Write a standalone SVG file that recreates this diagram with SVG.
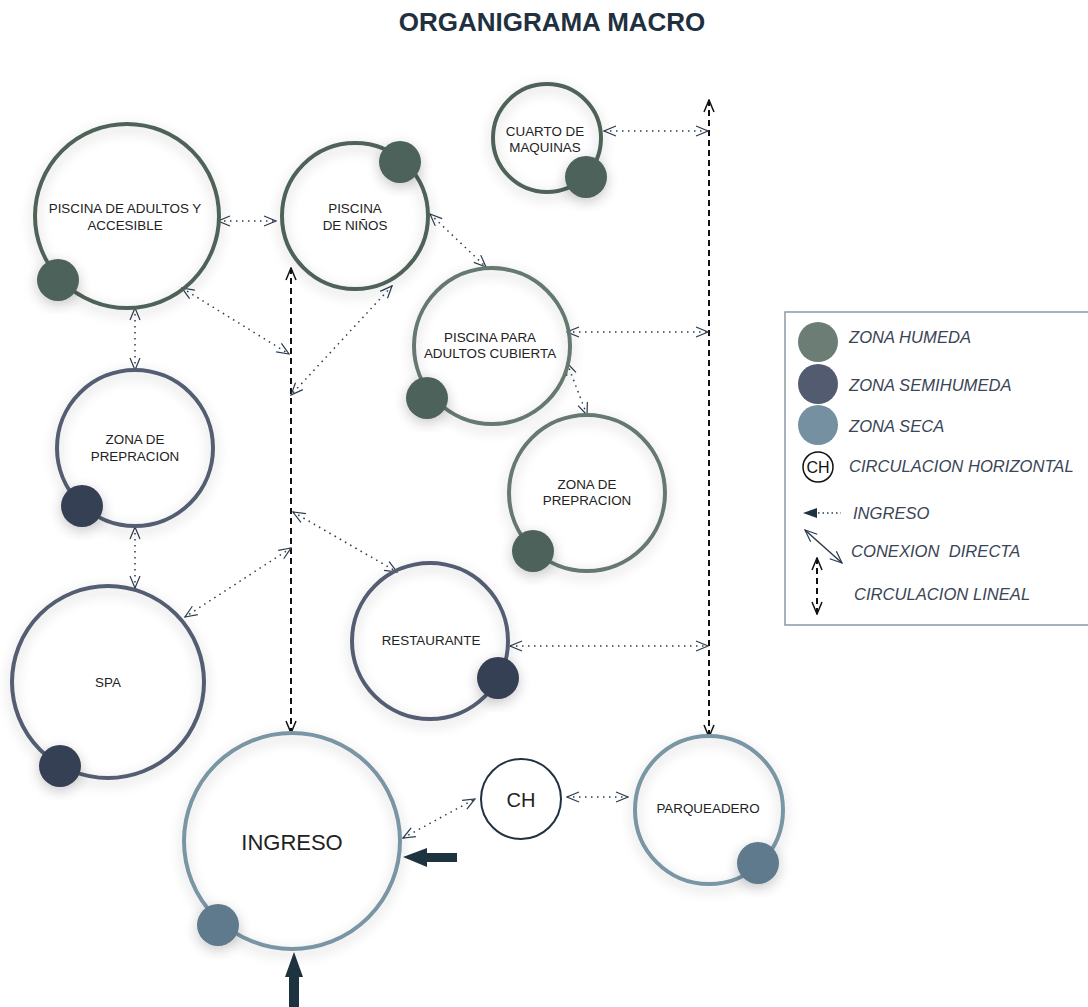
<svg xmlns="http://www.w3.org/2000/svg" width="1088" height="1007" viewBox="0 0 1088 1007">
<style>
.ring{fill:none;stroke-width:4}
.hum{stroke:#4f6259}
.hum2{stroke:#65796f}
.semi{stroke:#545d72}
.seca{stroke:#7a95a3}
.dh{fill:#4e625a}
.ds{fill:#363f54}
.dc{fill:#5f7a8c}
.lbl{font-family:"Liberation Sans",Arial,sans-serif;font-size:13.4px;fill:#222;text-anchor:middle}
.dot{fill:none;stroke:#2b3b4c;stroke-width:1.5;stroke-dasharray:1.5 4.5;marker-start:url(#ao);marker-end:url(#ao)}
.dash{fill:none;stroke:#111;stroke-width:2;stroke-dasharray:6 4;marker-start:url(#ab);marker-end:url(#ab)}
.leg{font-family:"Liberation Sans",Arial,sans-serif;font-size:16.6px;font-style:italic;fill:#3a4556;white-space:pre}
</style>
<defs>
<filter id="sh" x="-30%" y="-30%" width="160%" height="160%">
<feGaussianBlur in="SourceAlpha" stdDeviation="7"/>
<feOffset dx="0" dy="4" result="b"/>
<feComponentTransfer><feFuncA type="linear" slope="0.22"/></feComponentTransfer>
<feMerge><feMergeNode/><feMergeNode in="SourceGraphic"/></feMerge>
</filter>
<marker id="ao" viewBox="0 0 14 12" refX="13" refY="6" markerWidth="14" markerHeight="12" markerUnits="userSpaceOnUse" orient="auto-start-reverse">
<path d="M1,1 L13,6 L1,11" fill="none" stroke="#2b3b4c" stroke-width="1.2"/>
</marker>
<marker id="ab" viewBox="0 0 14 12" refX="13" refY="6" markerWidth="14" markerHeight="12" markerUnits="userSpaceOnUse" orient="auto-start-reverse">
<path d="M1,1 L13,6 L1,11" fill="none" stroke="#111" stroke-width="1.5"/>
</marker>
</defs>
<rect width="1088" height="1007" fill="#fff"/>
<text x="552" y="31" font-family="Liberation Sans,Arial,sans-serif" font-size="26" font-weight="bold" fill="#1f3040" text-anchor="middle">ORGANIGRAMA MACRO</text>

<g id="connectors">
<line class="dash" x1="291" y1="268" x2="291" y2="733"/>
<line class="dash" x1="709" y1="100" x2="709" y2="737"/>
<line class="dot" x1="218" y1="221" x2="276" y2="221"/>
<line class="dot" x1="604" y1="131" x2="708" y2="131"/>
<line class="dot" x1="430" y1="214" x2="486" y2="267"/>
<line class="dot" x1="182" y1="288" x2="289" y2="354"/>
<line class="dot" x1="392" y1="286" x2="291" y2="395"/>
<line class="dot" x1="135" y1="308" x2="135" y2="370"/>
<line class="dot" x1="567" y1="332" x2="708" y2="332"/>
<line class="dot" x1="567" y1="363" x2="587" y2="415"/>
<line class="dot" x1="135" y1="527" x2="135" y2="588"/>
<line class="dot" x1="291" y1="548" x2="185" y2="617"/>
<line class="dot" x1="293" y1="512" x2="397" y2="572"/>
<line class="dot" x1="510" y1="646" x2="708" y2="646"/>
<line class="dot" x1="403" y1="838" x2="475" y2="799"/>
<line class="dot" x1="567" y1="797" x2="628" y2="797"/>
<path d="M403,857 L427,848 L427,853 L457,853 L457,862 L427,862 L427,867 Z" fill="#1e3340"/>
<path d="M294,952 L303,977 L299,977 L299,1007 L289,1007 L289,977 L285,977 Z" fill="#1e3340"/>
</g>

<g id="piscina-adultos">
<circle class="ring hum" cx="127" cy="216" r="92" filter="url(#sh)"/>
<circle class="dh" cx="58" cy="280" r="21" filter="url(#sh)"/>
<text class="lbl" x="125" y="213">PISCINA DE ADULTOS Y</text>
<text class="lbl" x="125" y="230">ACCESIBLE</text>
</g>
<g id="piscina-ninos">
<circle class="ring hum" cx="355" cy="216" r="73" filter="url(#sh)"/>
<circle class="dh" cx="400" cy="162" r="21" filter="url(#sh)"/>
<text class="lbl" x="355" y="213">PISCINA</text>
<text class="lbl" x="355" y="230">DE NIÑOS</text>
</g>
<g id="cuarto-maquinas">
<circle class="ring hum" cx="547" cy="138" r="54" filter="url(#sh)"/>
<circle class="dh" cx="586" cy="177" r="21" filter="url(#sh)"/>
<text class="lbl" x="545" y="136">CUARTO DE</text>
<text class="lbl" x="545" y="152">MAQUINAS</text>
</g>
<g id="piscina-cubierta">
<circle class="ring hum2" cx="492" cy="346" r="78" filter="url(#sh)"/>
<circle class="dh" cx="427" cy="398" r="21" filter="url(#sh)"/>
<text class="lbl" x="490" y="342">PISCINA PARA</text>
<text class="lbl" x="490" y="358">ADULTOS CUBIERTA</text>
</g>
<g id="zona-prep-der">
<circle class="ring hum2" cx="587" cy="493" r="78" filter="url(#sh)"/>
<circle class="dh" cx="533" cy="551" r="21" filter="url(#sh)"/>
<text class="lbl" x="587" y="489">ZONA DE</text>
<text class="lbl" x="587" y="505">PREPRACION</text>
</g>
<g id="zona-prep-izq">
<circle class="ring semi" cx="135" cy="448" r="78" filter="url(#sh)"/>
<circle class="ds" cx="82" cy="506" r="21" filter="url(#sh)"/>
<text class="lbl" x="135" y="444">ZONA DE</text>
<text class="lbl" x="135" y="461">PREPRACION</text>
</g>
<g id="spa">
<circle class="ring semi" cx="108" cy="682" r="96" filter="url(#sh)"/>
<circle class="ds" cx="60" cy="766" r="21" filter="url(#sh)"/>
<text class="lbl" x="108" y="687">SPA</text>
</g>
<g id="restaurante">
<circle class="ring semi" cx="430" cy="641" r="78" filter="url(#sh)"/>
<circle class="ds" cx="498" cy="678" r="21" filter="url(#sh)"/>
<text class="lbl" x="431" y="645">RESTAURANTE</text>
</g>
<g id="ingreso">
<circle class="ring seca" cx="292" cy="841" r="108" filter="url(#sh)"/>
<circle class="dc" cx="218" cy="925" r="21" filter="url(#sh)"/>
<text class="lbl" x="292" y="850" style="font-size:22px">INGRESO</text>
</g>
<g id="ch">
<circle cx="521" cy="799" r="40" fill="none" stroke="#1f3040" stroke-width="2"/>
<text class="lbl" x="521" y="807" style="font-size:20px">CH</text>
</g>
<g id="parqueadero">
<circle class="ring seca" cx="709" cy="810" r="74" filter="url(#sh)"/>
<circle class="dc" cx="758" cy="863" r="21" filter="url(#sh)"/>
<text class="lbl" x="708" y="813">PARQUEADERO</text>
</g>

<g id="legend">
<rect x="785" y="312" width="320" height="313" fill="#fff" stroke="#8a9aa6" stroke-width="1.5"/>
<circle cx="818" cy="342" r="20" fill="#6b7d74"/>
<text class="leg" x="849" y="343">ZONA HUMEDA</text>
<circle cx="818" cy="384" r="20" fill="#525b6f"/>
<text class="leg" x="849" y="391">ZONA SEMIHUMEDA</text>
<circle cx="818" cy="425" r="20" fill="#7590a0"/>
<text class="leg" x="849" y="432">ZONA SECA</text>
<circle cx="818" cy="467" r="15" fill="none" stroke="#111" stroke-width="1.5"/>
<text x="818" y="473" font-family="Liberation Sans,Arial,sans-serif" font-size="16" fill="#111" text-anchor="middle">CH</text>
<text class="leg" x="849" y="472">CIRCULACION HORIZONTAL</text>
<path d="M803,513 L817,508 L817,518 Z" fill="#1e3340"/>
<line x1="818" y1="513" x2="841" y2="513" stroke="#2b3b4c" stroke-width="1.5" stroke-dasharray="1.5 3"/>
<text class="leg" x="853" y="519">INGRESO</text>
<line x1="805" y1="530" x2="842" y2="563" stroke="#2b3b4c" stroke-width="1.5" marker-start="url(#ao)" marker-end="url(#ao)"/>
<text class="leg" x="851" y="557">CONEXION  DIRECTA</text>
<line x1="817" y1="558" x2="817" y2="614" stroke="#111" stroke-width="2" stroke-dasharray="6 4" marker-start="url(#ab)" marker-end="url(#ab)"/>
<text class="leg" x="854" y="600">CIRCULACION LINEAL</text>
</g>
</svg>
